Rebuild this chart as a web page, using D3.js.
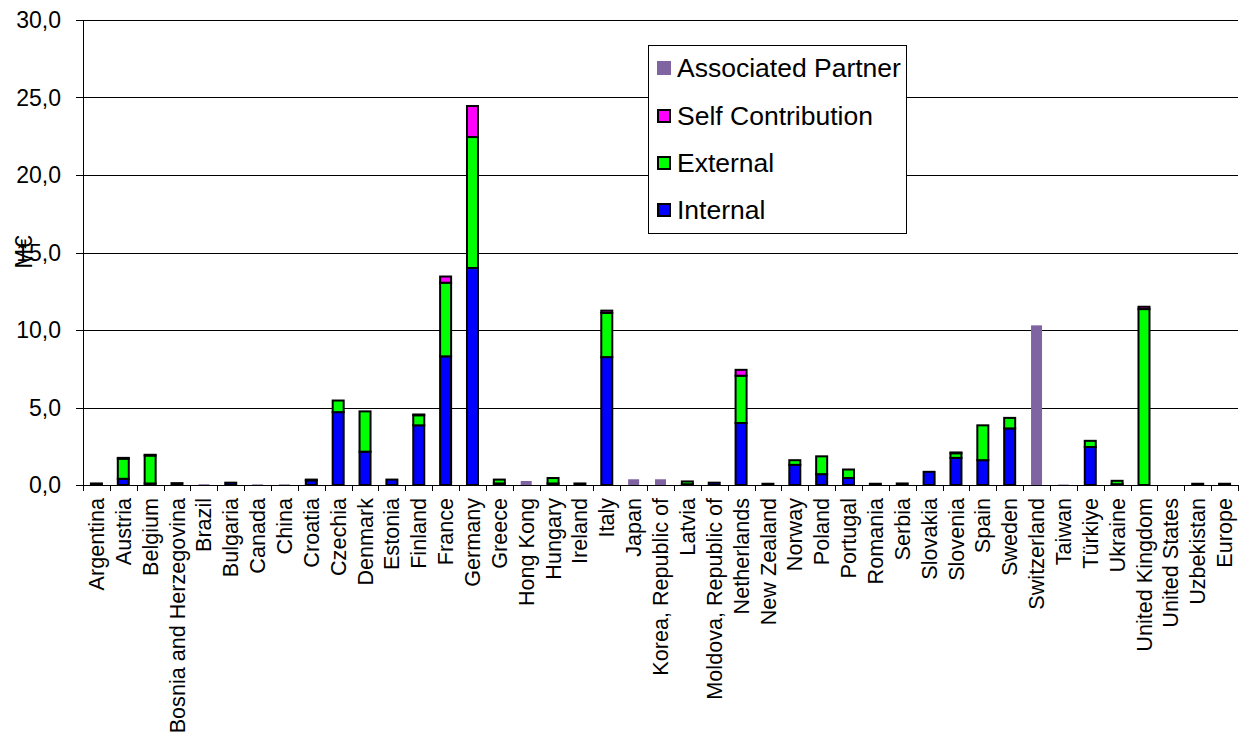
<!DOCTYPE html>
<html>
<head>
<meta charset="utf-8">
<script src="https://cdn.jsdelivr.net/npm/d3@7"></script>
<style>
  html, body { margin: 0; padding: 0; background: #fff; }
  svg { display: block; font-family: "Liberation Sans", Arial, sans-serif; }
</style>
</head>
<body>
<svg id="chart" width="1240" height="734"></svg>
<script>
// Funding by country, million euro, split by source
const categories = ["Argentina","Austria","Belgium","Bosnia and Herzegovina","Brazil","Bulgaria","Canada","China","Croatia","Czechia","Denmark","Estonia","Finland","France","Germany","Greece","Hong Kong","Hungary","Ireland","Italy","Japan","Korea, Republic of","Latvia","Moldova, Republic of","Netherlands","New Zealand","Norway","Poland","Portugal","Romania","Serbia","Slovakia","Slovenia","Spain","Sweden","Switzerland","Taiwan","Türkiye","Ukraine","United Kingdom","United States","Uzbekistan","Europe"];
const internal         = [0.1,0.4,0.1,0.12,0,0.15,0,0,0.3,4.7,2.15,0.35,3.85,8.3,14.0,0.1,0,0.1,0.1,8.25,0,0,0.05,0.15,4.0,0.08,1.3,0.7,0.45,0.08,0.1,0.85,1.75,1.6,3.65,0,0,2.45,0.05,0,0,0.08,0.08];
const external         = [0,1.3,1.8,0,0,0,0,0,0.05,0.75,2.6,0,0.65,4.75,8.45,0.25,0,0.35,0,2.85,0,0,0.18,0,3.05,0,0.3,1.15,0.55,0,0,0,0.3,2.25,0.68,0,0,0.4,0.22,11.35,0,0,0];
const selfContribution = [0,0.05,0.05,0,0,0,0,0,0,0,0,0,0.05,0.4,2.0,0,0,0,0,0.15,0,0,0,0,0.38,0,0,0,0,0,0,0,0.05,0,0,0,0,0,0,0.15,0,0,0];
const associatedPartner= [0,0,0,0,0.05,0,0.04,0.04,0,0,0,0,0,0,0,0,0.26,0,0,0,0.37,0.37,0,0,0,0,0,0,0,0,0,0,0,0,0,10.3,0.03,0,0,0,0,0,0];
const yTicks = [0,5,10,15,20,25,30];

const seriesKeys = ["Internal","External","Self Contribution","Associated Partner"];
const seriesColors = {
  "Internal": "#0000ff",
  "External": "#00ff00",
  "Self Contribution": "#ff00ff",
  "Associated Partner": "#8064a2"
};
const legendOrder = ["Associated Partner","Self Contribution","External","Internal"];

const rows = categories.map((c, i) => ({
  country: c,
  "Internal": internal[i],
  "External": external[i],
  "Self Contribution": selfContribution[i],
  "Associated Partner": associatedPartner[i]
}));

const svg = d3.select("#chart");
const plotLeft = 83, plotRight = 1238, plotTop = 20, plotBottom = 485;

const x = d3.scaleBand().domain(categories).range([plotLeft, plotRight]).paddingInner(0).paddingOuter(0);
const y = d3.scaleLinear().domain([0, 30]).range([plotBottom, plotTop]);
const barW = 11;

// horizontal gridlines
svg.append("g").selectAll("line").data(yTicks.filter(t => t > 0)).join("line")
  .attr("x1", plotLeft).attr("x2", plotRight)
  .attr("y1", d => Math.round(y(d)) + 0.5).attr("y2", d => Math.round(y(d)) + 0.5)
  .attr("stroke", "#000").attr("stroke-width", 1);

// stacked bars
const stacked = d3.stack().keys(seriesKeys)(rows);
const barsG = svg.append("g");
stacked.forEach(layer => {
  const key = layer.key;
  const isAssoc = key === "Associated Partner";
  barsG.append("g").selectAll("rect")
    .data(layer.filter(d => d[1] - d[0] > 0))
    .join("rect")
    .attr("x", d => x(d.data.country) + (x.bandwidth() - barW) / 2)
    .attr("width", barW)
    .attr("y", d => y(d[1]))
    .attr("height", d => y(d[0]) - y(d[1]))
    .attr("fill", seriesColors[key])
    .attr("stroke", isAssoc ? "none" : "#000")
    .attr("stroke-width", isAssoc ? 0 : 2);
});

// y axis
const yAxis = svg.append("g");
yAxis.append("line").attr("x1", plotLeft + 0.5).attr("x2", plotLeft + 0.5).attr("y1", plotTop).attr("y2", plotBottom)
  .attr("stroke", "#000");
yAxis.selectAll("line.tick").data(yTicks).join("line").attr("class", "tick")
  .attr("x1", plotLeft - 7).attr("x2", plotLeft)
  .attr("y1", d => Math.round(y(d)) + 0.5).attr("y2", d => Math.round(y(d)) + 0.5)
  .attr("stroke", "#000");
yAxis.selectAll("text").data(yTicks).join("text")
  .attr("x", 61).attr("y", d => y(d)).attr("dy", "0.35em")
  .attr("text-anchor", "end").attr("font-size", 23).attr("fill", "#000")
  .text(d => d3.format(".1f")(d).replace(".", ","));

// x axis
const xAxis = svg.append("g");
xAxis.append("line").attr("x1", plotLeft).attr("x2", plotRight).attr("y1", plotBottom + 0.5).attr("y2", plotBottom + 0.5)
  .attr("stroke", "#000");
const boundaries = categories.map(c => x(c)).concat([plotRight]);
xAxis.selectAll("line.tick").data(boundaries).join("line").attr("class", "tick")
  .attr("x1", d => Math.round(d) + 0.5).attr("x2", d => Math.round(d) + 0.5)
  .attr("y1", plotBottom).attr("y2", plotBottom + 6)
  .attr("stroke", "#000");
xAxis.selectAll("text").data(categories).join("text")
  .attr("transform", d => `translate(${x(d) + x.bandwidth() / 2},498) rotate(-90)`)
  .attr("dy", "0.35em")
  .attr("text-anchor", "end").attr("font-size", 21.6).attr("fill", "#000")
  .text(d => d);

// y axis title
svg.append("text")
  .attr("transform", "translate(32,252) rotate(-90)")
  .attr("text-anchor", "middle").attr("font-size", 24).attr("fill", "#000")
  .text("M€");

// legend
const lg = svg.append("g");
lg.append("rect").attr("x", 648.5).attr("y", 45.5).attr("width", 258).attr("height", 188)
  .attr("fill", "#fff").attr("stroke", "#000").attr("stroke-width", 1);
const rowY = [68, 116, 163, 210];
legendOrder.forEach((k, i) => {
  const isAssoc = k === "Associated Partner";
  lg.append("rect")
    .attr("x", isAssoc ? 657 : 658).attr("y", rowY[i] - (isAssoc ? 7 : 6))
    .attr("width", isAssoc ? 14 : 12).attr("height", isAssoc ? 14 : 12)
    .attr("fill", seriesColors[k])
    .attr("stroke", isAssoc ? "none" : "#000").attr("stroke-width", isAssoc ? 0 : 2);
  lg.append("text").attr("x", 677).attr("y", rowY[i]).attr("dy", "0.35em")
    .attr("font-size", 26.5).attr("fill", "#000").text(k);
});
</script>
</body>
</html>
